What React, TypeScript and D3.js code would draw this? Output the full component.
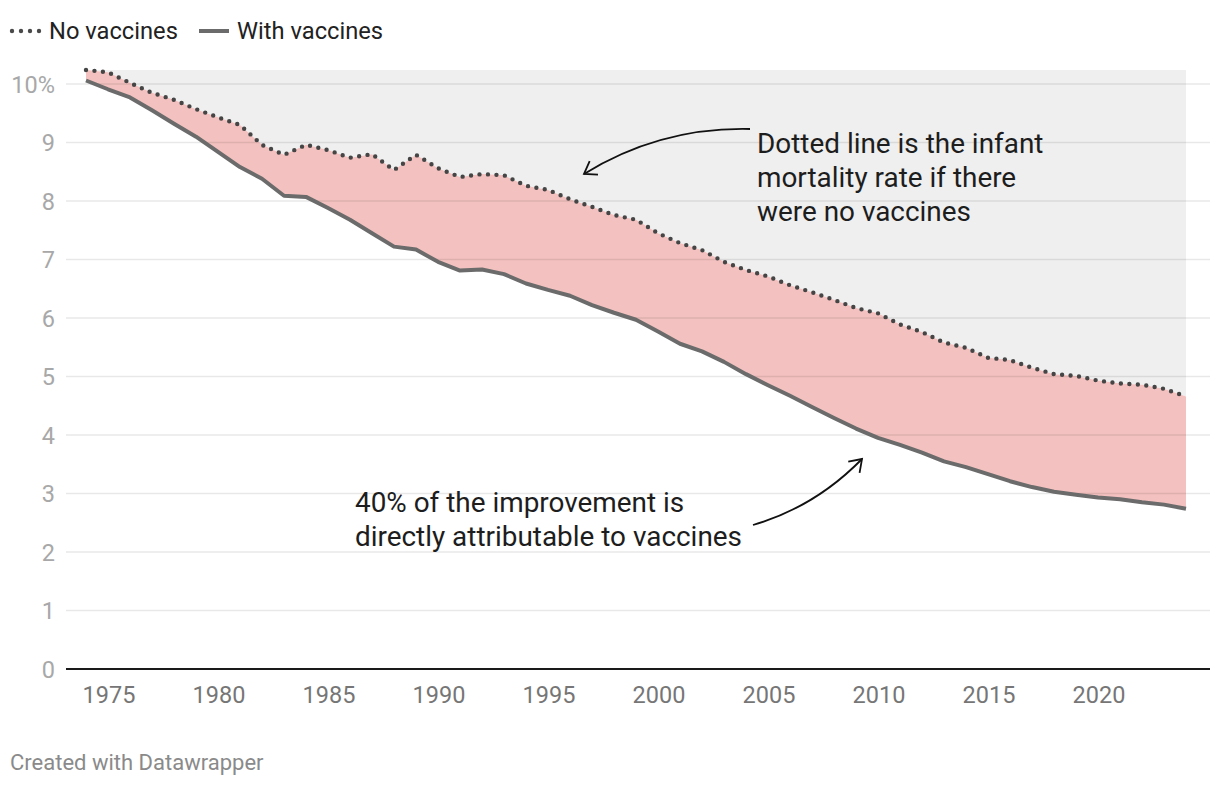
import React, { useEffect } from 'react';
import * as d3 from 'd3';

const YEARS: number[] = d3.range(1974, 2025);

const NO_VACCINES: number[] = [
  10.24, 10.2, 10.02, 9.85, 9.73, 9.57, 9.43, 9.3, 8.96, 8.79,
  8.96, 8.87, 8.74, 8.8, 8.53, 8.79, 8.56, 8.41, 8.46, 8.44,
  8.26, 8.19, 8.03, 7.9, 7.76, 7.68, 7.45, 7.28, 7.16, 6.96,
  6.82, 6.71, 6.56, 6.44, 6.31, 6.17, 6.08, 5.89, 5.76, 5.58,
  5.49, 5.32, 5.28, 5.15, 5.04, 5.01, 4.93, 4.88, 4.86, 4.79,
  4.66,
];

const WITH_VACCINES: number[] = [
  10.06, 9.91, 9.77, 9.55, 9.32, 9.1, 8.84, 8.58, 8.38, 8.09,
  8.07, 7.88, 7.68, 7.45, 7.22, 7.17, 6.96, 6.81, 6.83, 6.75,
  6.59, 6.48, 6.38, 6.22, 6.09, 5.97, 5.77, 5.56, 5.43, 5.25,
  5.04, 4.85, 4.67, 4.48, 4.29, 4.11, 3.95, 3.83, 3.7, 3.55,
  3.45, 3.33, 3.21, 3.11, 3.03, 2.98, 2.93, 2.9, 2.85, 2.81,
  2.74,
];

const Y_TICKS: number[] = [0, 1, 2, 3, 4, 5, 6, 7, 8, 9, 10];
const X_TICKS: number[] = [1975, 1980, 1985, 1990, 1995, 2000, 2005, 2010, 2015, 2020];

const LEGEND = ['No vaccines', 'With vaccines'];
const NOTE_TOP = ['Dotted line is the infant', 'mortality rate if there', 'were no vaccines'];
const NOTE_BOTTOM = ['40% of the improvement is', 'directly attributable to vaccines'];

const W = 1220;
const H = 786;
const FONT = 'Roboto, "Noto Sans", sans-serif';

interface Row {
  year: number;
  no: number;
  with: number;
}

const rows: Row[] = YEARS.map((y, i) => ({ year: y, no: NO_VACCINES[i], with: WITH_VACCINES[i] }));

function arrowHead(ex: number, ey: number, cx: number, cy: number, len = 14, ang = 0.6) {
  const a = Math.atan2(ey - cy, ex - cx);
  const p1 = [ex - len * Math.cos(a - ang), ey - len * Math.sin(a - ang)];
  const p2 = [ex - len * Math.cos(a + ang), ey - len * Math.sin(a + ang)];
  return `M${p1[0]},${p1[1]}L${ex},${ey}L${p2[0]},${p2[1]}`;
}

const App: React.FC = () => {
  useEffect(() => {
    document.body.style.margin = '0';
  }, []);

  const x = d3.scaleLinear().domain([1974, 2024]).range([86, 1186]);
  const y = d3.scaleLinear().domain([0, 10]).range([669, 84]);
  const top = d3.max(NO_VACCINES)!;

  const grayArea = d3.area<Row>().x(d => x(d.year)).y0(() => y(top)).y1(d => y(d.no));
  const pinkArea = d3.area<Row>().x(d => x(d.year)).y0(d => y(d.with)).y1(d => y(d.no));
  const noLine = d3.line<Row>().x(d => x(d.year)).y(d => y(d.no));
  const withLine = d3.line<Row>().x(d => x(d.year)).y(d => y(d.with));

  const a1 = { sx: 750, sy: 129, cx: 660, cy: 127, ex: 584, ey: 174 };
  const a2 = { sx: 753, sy: 525, cx: 815, cy: 507, ex: 862, ey: 459 };

  return (
    <svg width={W} height={H} style={{ display: 'block', background: '#fff' }} fontFamily={FONT}>
      {/* legend */}
      <g>
        <line x1={12} x2={42} y1={31} y2={31} stroke="#4a4a4a" strokeWidth={4.4} strokeLinecap="round" strokeDasharray="0 9" />
        <text x={49} y={38.5} fontSize={23.7} fill="#222">{LEGEND[0]}</text>
        <line x1={199} x2={229} y1={31} y2={31} stroke="#6b6b6b" strokeWidth={4} />
        <text x={237} y={38.5} fontSize={23.7} fill="#222">{LEGEND[1]}</text>
      </g>

      {/* areas */}
      <path d={grayArea(rows)!} fill="#efefef" />
      <path d={pinkArea(rows)!} fill="#f3c1bf" />

      {/* grid */}
      {Y_TICKS.filter(t => t > 0).map(t => (
        <line key={t} x1={66} x2={1210} y1={y(t)} y2={y(t)} stroke="#000" strokeOpacity={0.09} strokeWidth={1.5} />
      ))}
      <line x1={66} x2={1210} y1={y(0)} y2={y(0)} stroke="#1a1a1a" strokeWidth={2} />

      {/* y labels */}
      {Y_TICKS.map(t => (
        <text key={t} x={55} y={y(t) + 8.5} textAnchor="end" fontSize={23.5} fill="#a8a8a8">
          {t === 10 ? '10%' : t}
        </text>
      ))}

      {/* x labels */}
      {X_TICKS.map(t => (
        <text key={t} x={x(t) + 1} y={703} textAnchor="middle" fontSize={23.5} fill="#767676">{t}</text>
      ))}

      {/* lines */}
      <path d={withLine(rows)!} fill="none" stroke="#6b6b6b" strokeWidth={4} strokeLinejoin="round" />
      <path d={noLine(rows)!} fill="none" stroke="#454545" strokeWidth={4.4} strokeLinecap="round" strokeDasharray="0 8.5" />

      {/* annotations */}
      <g fill="none" stroke="#111" strokeWidth={1.8}>
        <path d={`M${a1.sx},${a1.sy}Q${a1.cx},${a1.cy} ${a1.ex},${a1.ey}`} />
        <path d={arrowHead(a1.ex, a1.ey, a1.cx, a1.cy)} />
        <path d={`M${a2.sx},${a2.sy}Q${a2.cx},${a2.cy} ${a2.ex},${a2.ey}`} />
        <path d={arrowHead(a2.ex, a2.ey, a2.cx, a2.cy)} />
      </g>
      {NOTE_TOP.map((s, i) => (
        <text key={s} x={757} y={153 + i * 34} fontSize={27.9} fill="#1d1d1d">{s}</text>
      ))}
      {NOTE_BOTTOM.map((s, i) => (
        <text key={s} x={355} y={512 + i * 34} fontSize={27.9} fill="#1d1d1d">{s}</text>
      ))}

      {/* footer */}
      <text x={10} y={770} fontSize={22} fill="#8a8a8a">Created with Datawrapper</text>
    </svg>
  );
};

export default App;
